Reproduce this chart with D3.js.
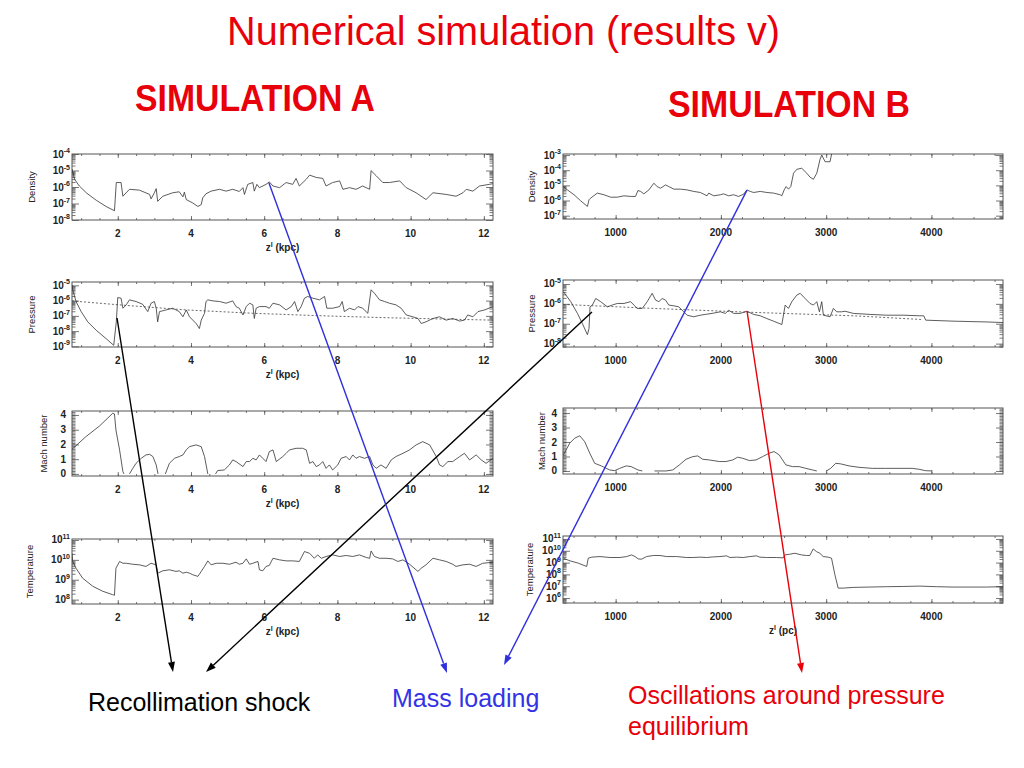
<!DOCTYPE html>
<html><head><meta charset="utf-8">
<script src="https://cdn.jsdelivr.net/npm/d3@7"></script>
<style>body{margin:0;background:#fff}</style>
</head><body>
<svg id="c" width="1024" height="768"></svg>
<script>
// ---------- DATA (z, log10 value) ----------
const zDomainA = [0.75, 12.25];           // kpc
const zDomainB = [500, 4680];             // pc
const xTicksA = [2, 4, 6, 8, 10, 12];
const xTicksB = [1000, 2000, 3000, 4000];
const machTicks = [0, 1, 2, 3, 4];

const densityA = [[0.75,-4.91],[0.82,-5.53],[0.95,-5.94],[1.14,-6.35],[1.41,-6.80],[1.68,-7.18],[1.91,-7.44],[1.96,-5.73],[2.09,-5.73],[2.14,-6.56],[2.32,-6.14],[2.59,-6.19],[2.87,-6.45],[2.91,-6.72],[3.00,-6.35],[3.05,-6.10],[3.09,-6.87],[3.23,-6.56],[3.50,-6.35],[3.68,-6.29],[3.78,-6.60],[3.82,-6.31],[3.87,-6.76],[4.05,-6.97],[4.19,-7.18],[4.28,-7.07],[4.32,-6.66],[4.41,-6.41],[4.55,-6.25],[4.78,-6.14],[4.96,-6.25],[5.14,-6.14],[5.32,-6.27],[5.42,-6.04],[5.46,-6.45],[5.55,-5.84],[5.69,-5.73],[5.73,-6.25],[5.80,-5.84],[5.87,-6.04],[6.05,-5.84],[6.14,-5.69],[6.24,-5.94],[6.42,-6.04],[6.60,-5.73],[6.78,-5.84],[6.87,-5.48],[6.96,-5.94],[7.15,-5.53],[7.24,-5.28],[7.42,-5.42],[7.60,-5.48],[7.69,-5.94],[7.87,-5.73],[8.06,-5.63],[8.15,-6.14],[8.33,-6.04],[8.51,-6.14],[8.69,-5.94],[8.88,-6.14],[8.92,-5.01],[9.06,-5.32],[9.24,-5.73],[9.42,-5.73],[9.70,-5.63],[9.88,-6.04],[10.15,-6.35],[10.42,-6.76],[10.61,-6.35],[10.97,-6.45],[11.24,-6.56],[11.43,-6.35],[11.52,-6.14],[11.70,-6.25],[11.88,-5.94],[12.15,-5.84],[12.25,-5.80]];

const pressureA = [[0.75,-4.96],[0.77,-5.29],[0.86,-6.06],[1.00,-6.72],[1.18,-7.39],[1.41,-7.94],[1.68,-8.49],[1.89,-8.93],[1.96,-7.39],[2.00,-5.80],[2.09,-5.84],[2.14,-6.50],[2.23,-6.28],[2.32,-5.95],[2.50,-6.06],[2.68,-6.24],[2.82,-6.72],[2.91,-6.17],[3.00,-6.06],[3.05,-6.50],[3.09,-7.39],[3.14,-6.72],[3.32,-6.61],[3.50,-6.50],[3.68,-6.72],[3.78,-7.06],[3.87,-6.61],[3.96,-7.06],[4.14,-7.50],[4.23,-7.83],[4.28,-7.28],[4.37,-6.83],[4.41,-6.06],[4.46,-5.95],[4.60,-6.02],[4.78,-6.06],[4.96,-6.17],[5.14,-6.02],[5.23,-6.39],[5.32,-6.50],[5.42,-6.94],[5.51,-6.39],[5.60,-6.17],[5.69,-6.28],[5.73,-7.17],[5.78,-6.50],[5.87,-6.39],[6.05,-6.39],[6.14,-6.50],[6.24,-6.17],[6.42,-6.28],[6.60,-6.61],[6.74,-6.39],[6.83,-6.06],[6.92,-6.72],[7.01,-6.39],[7.10,-5.84],[7.19,-5.73],[7.33,-5.84],[7.51,-5.95],[7.65,-5.73],[7.71,-6.50],[7.87,-6.50],[8.06,-6.39],[8.13,-6.06],[8.19,-6.72],[8.33,-6.50],[8.47,-6.61],[8.56,-6.39],[8.69,-6.50],[8.83,-6.83],[8.92,-5.29],[9.01,-5.51],[9.15,-5.95],[9.29,-6.06],[9.42,-6.17],[9.60,-6.28],[9.74,-6.50],[9.88,-6.94],[10.06,-7.06],[10.20,-7.17],[10.29,-7.50],[10.42,-7.39],[10.61,-7.17],[10.79,-7.06],[10.97,-7.28],[11.15,-7.17],[11.34,-7.34],[11.47,-7.28],[11.56,-6.94],[11.70,-7.06],[11.84,-6.72],[12.02,-6.61],[12.25,-6.39]];

const pressureEqA = [[0.75,-6.02],[2.05,-6.28],[3.87,-6.61],[5.69,-6.83],[7.51,-6.99],[9.33,-7.12],[12.25,-7.28]];

const machA = [[0.75,1.67],[1.13,2.53],[1.50,3.25],[1.86,4.11],[1.91,4.07],[1.95,2.98],[2.05,1.63],[2.14,0.16],[2.17,0],[2.2,null],
[2.32,0],[2.41,0.38],[2.50,0.72],[2.64,1.06],[2.77,1.29],[2.87,1.33],[2.96,1.18],[3.05,0.61],[3.10,0],[3.2,null],
[3.30,0],[3.41,0.72],[3.55,1.06],[3.68,1.18],[3.78,1.29],[3.87,1.63],[3.96,1.85],[4.14,1.97],[4.28,1.85],[4.37,1.18],[4.46,0],[4.5,null],
[4.67,0],[4.73,0.23],[4.91,0.27],[5.05,0.61],[5.14,0.95],[5.23,0.84],[5.42,0.50],[5.51,0.84],[5.60,0.84],[5.69,1.06],[5.78,0.95],[5.87,1.29],[6.05,0.84],[6.14,1.51],[6.24,1.63],[6.33,0.84],[6.51,1.18],[6.60,1.40],[6.69,1.63],[6.87,1.74],[7.05,1.74],[7.15,1.63],[7.24,0.72],[7.33,0.84],[7.42,0.50],[7.51,0.61],[7.60,0.84],[7.69,0.38],[7.78,0.61],[7.87,0.27],[8.01,0.61],[8.10,1.06],[8.24,1.18],[8.33,0.95],[8.42,1.29],[8.51,1.06],[8.60,1.18],[8.74,1.06],[8.88,1.18],[8.97,0.61],[9.06,0.38],[9.19,0.61],[9.33,0.38],[9.47,0.95],[9.60,1.18],[9.79,1.40],[9.97,1.63],[10.15,1.97],[10.33,2.19],[10.52,1.97],[10.70,1.18],[10.79,0.61],[10.88,0.50],[11.02,0.84],[11.15,0.84],[11.34,1.18],[11.47,1.40],[11.61,0.95],[11.79,1.29],[11.93,0.95],[12.06,0.72],[12.25,1.06]];

const temperatureA = [[0.75,10.33],[0.77,9.92],[0.86,9.58],[1.04,9.08],[1.32,8.67],[1.59,8.42],[1.86,8.25],[1.91,8.22],[1.95,9.58],[2.05,9.92],[2.14,9.83],[2.23,9.83],[2.41,9.78],[2.59,9.75],[2.77,9.67],[2.91,9.83],[3.05,9.75],[3.09,9.33],[3.23,9.45],[3.41,9.50],[3.59,9.42],[3.68,9.45],[3.78,9.33],[3.87,9.38],[3.96,9.33],[4.05,9.25],[4.19,9.17],[4.23,9.28],[4.28,9.42],[4.37,9.67],[4.46,9.95],[4.55,9.75],[4.69,9.83],[4.87,9.83],[5.05,9.78],[5.23,9.88],[5.32,9.78],[5.42,9.83],[5.51,10.05],[5.60,9.78],[5.69,9.83],[5.83,9.92],[5.87,9.50],[5.96,9.45],[6.05,9.67],[6.14,9.72],[6.24,10.08],[6.42,10.00],[6.60,9.95],[6.78,9.95],[6.96,9.92],[7.10,10.42],[7.24,10.33],[7.37,10.08],[7.46,10.25],[7.56,10.08],[7.69,10.17],[7.87,10.25],[8.06,10.17],[8.24,10.22],[8.42,10.17],[8.60,10.25],[8.79,10.12],[8.88,10.08],[8.92,10.45],[9.01,10.17],[9.15,10.08],[9.33,10.08],[9.51,10.05],[9.65,9.92],[9.79,10.00],[9.97,9.78],[10.20,9.42],[10.29,9.58],[10.42,9.75],[10.61,10.08],[10.79,10.00],[10.97,9.92],[11.15,9.78],[11.24,9.67],[11.43,9.75],[11.61,9.78],[11.79,9.67],[11.97,9.83],[12.25,9.88]];

const densityB = [[504,-5.08],[542,-5.30],[605,-5.62],[668,-6.02],[732,-6.39],[747,-5.95],[763,-5.84],[826,-5.51],[889,-5.62],[953,-5.78],[1016,-5.78],[1079,-5.69],[1142,-5.73],[1189,-5.73],[1212,-5.34],[1237,-5.40],[1268,-5.56],[1316,-5.30],[1363,-4.86],[1395,-5.08],[1426,-5.19],[1474,-4.97],[1505,-5.08],[1553,-5.25],[1616,-5.25],[1679,-5.30],[1742,-5.40],[1805,-5.47],[1868,-5.69],[1884,-5.51],[1932,-5.69],[1995,-5.62],[2026,-5.56],[2074,-5.69],[2121,-5.62],[2168,-5.73],[2216,-5.58],[2247,-5.30],[2279,-5.40],[2311,-5.47],[2374,-5.40],[2437,-5.47],[2500,-5.51],[2563,-5.62],[2579,-5.69],[2601,-5.30],[2620,-5.08],[2642,-5.25],[2664,-5.08],[2690,-4.20],[2721,-3.94],[2768,-3.87],[2816,-4.20],[2847,-4.46],[2879,-4.60],[2911,-4.20],[2942,-3.28],[2958,-3.00],[2990,-3.44],[3037,-3.44],[3053,-2.89],[3069,-2.0]];

const pressureB = [[504,-5.39],[574,-5.89],[637,-6.48],[684,-6.99],[732,-7.55],[747,-7.24],[757,-6.15],[779,-6.06],[811,-5.73],[858,-5.89],[921,-6.15],[968,-6.06],[1016,-5.98],[1079,-5.98],[1142,-5.89],[1205,-6.23],[1253,-6.23],[1300,-5.89],[1347,-5.47],[1379,-5.81],[1411,-5.89],[1442,-5.73],[1474,-5.81],[1505,-6.06],[1553,-6.10],[1600,-6.15],[1647,-6.40],[1679,-6.57],[1742,-6.65],[1805,-6.57],[1853,-6.53],[1916,-6.48],[1995,-6.40],[2042,-6.48],[2074,-6.32],[2121,-6.48],[2184,-6.48],[2247,-6.37],[2311,-6.53],[2374,-6.60],[2437,-6.74],[2500,-6.87],[2579,-7.04],[2611,-6.06],[2642,-6.23],[2674,-5.89],[2721,-5.56],[2753,-5.47],[2800,-5.73],[2847,-5.98],[2879,-6.06],[2911,-5.89],[2936,-6.40],[2958,-5.89],[2974,-6.57],[3037,-6.65],[3069,-6.23],[3100,-6.40],[3147,-6.40],[3179,-6.37],[3258,-6.48],[3416,-6.53],[3574,-6.57],[3732,-6.57],[3890,-6.60],[3927,-6.60],[3946,-6.82],[4205,-6.87],[4521,-6.91],[4680,-6.94]];

const pressureEqB = [[504,-6.03],[1363,-6.23],[2311,-6.43],[3258,-6.60],[3921,-6.79]];

const machB = [[504,1.11],[564,1.92],[612,2.27],[659,2.43],[706,2.03],[754,1.23],[801,0.53],[864,0.35],[943,0.07],[991,0.02],[1038,0.18],[1101,0.35],[1148,0.30],[1212,0.07],[1253,0],[1300,null],
[1369,0],[1480,0],[1543,0.07],[1606,0.42],[1669,0.81],[1733,0.99],[1780,1.04],[1827,0.81],[1891,0.76],[1985,0.65],[2048,0.65],[2112,0.76],[2159,0.95],[2206,0.88],[2270,0.72],[2333,0.76],[2396,0.99],[2459,1.23],[2506,1.34],[2554,1.11],[2617,0.42],[2680,0.30],[2743,0.30],[2806,0.18],[2870,0.07],[2911,0],[2950,null],
[3002,0],[3043,0.18],[3091,0.53],[3138,0.49],[3217,0.35],[3312,0.25],[3438,0.18],[3564,0.18],[3691,0.18],[3817,0.18],[3880,0.12],[3943,0.02],[4006,0]];

const temperatureB = [[504,9.37],[566,9.15],[646,8.95],[725,8.67],[740,9.37],[772,9.46],[851,9.51],[946,9.43],[1041,9.43],[1104,9.51],[1152,9.65],[1184,9.51],[1215,9.31],[1247,9.29],[1294,9.51],[1358,9.60],[1421,9.60],[1484,9.51],[1579,9.51],[1674,9.43],[1737,9.43],[1801,9.46],[1864,9.43],[1927,9.48],[1991,9.51],[2054,9.57],[2086,9.43],[2149,9.46],[2212,9.43],[2275,9.51],[2339,9.57],[2370,9.46],[2434,9.43],[2529,9.43],[2592,9.40],[2608,9.65],[2655,9.71],[2703,9.79],[2766,9.65],[2814,9.60],[2845,9.60],[2877,10.16],[2908,9.93],[2940,9.79],[2972,9.51],[3019,9.46],[3051,9.37],[3083,7.97],[3114,6.84],[3162,6.84],[3257,6.90],[3415,6.93],[3573,6.96],[3731,6.98],[3890,7.01],[4048,6.96],[4206,6.93],[4523,6.93],[4680,6.96]];

// ---------- LAYOUT ----------
const FONT = '"Liberation Sans", Arial, Helvetica, sans-serif';
const svg = d3.select('#c').attr('font-family', FONT);
const defs = svg.append('defs');

const panels = [
  {id:'dA', data:densityA, log:true, xd:zDomainA, yd:[-8,-4], x0:72, x1:493, y0:154, y1:220, ylabel:'Density', lx:32, xt:xTicksA, xtitle:'(kpc)', minorX:0.5},
  {id:'pA', data:pressureA, eq:pressureEqA, log:true, xd:zDomainA, yd:[-9.04,-4.78], x0:72, x1:493, y0:282, y1:347, ylabel:'Pressure', lx:32, xt:xTicksA, xtitle:'(kpc)', minorX:0.5},
  {id:'mA', data:machA, log:false, xd:zDomainA, yd:[-0.14,4.27], x0:72, x1:493, y0:411, y1:476, ylabel:'Mach number', lx:44, xt:xTicksA, xtitle:'(kpc)', minorX:0.5},
  {id:'tA', data:temperatureA, log:true, xd:zDomainA, yd:[7.78,11.05], x0:72, x1:493, y0:539, y1:604, ylabel:'Temperature', lx:30, xt:xTicksA, xtitle:'(kpc)', minorX:0.5},
  {id:'dB', data:densityB, log:true, xd:zDomainB, yd:[-7.22,-2.93], x0:563, x1:1003, y0:154, y1:219, ylabel:'Density', lx:532, xt:xTicksB, xtitle:null, minorX:200},
  {id:'pB', data:pressureB, eq:pressureEqB, log:true, xd:zDomainB, yd:[-8.17,-4.8], x0:563, x1:1003, y0:280, y1:347, ylabel:'Pressure', lx:532, xt:xTicksB, xtitle:null, minorX:200},
  {id:'mB', data:machB, log:false, xd:zDomainB, yd:[-0.21,4.35], x0:563, x1:1003, y0:408, y1:474, ylabel:'Mach number', lx:542, xt:xTicksB, xtitle:null, minorX:200},
  {id:'tB', data:temperatureB, log:true, xd:zDomainB, yd:[5.58,11.25], x0:563, x1:1003, y0:536, y1:603, ylabel:'Temperature', lx:530, xt:xTicksB, xtitle:'(pc)', minorX:200}
];

const scales = {};

function styleTicks(sel) {
  sel.select('.domain').remove();
  sel.selectAll('.tick line').attr('stroke', '#555').attr('stroke-width', 0.8);
}

function drawPanel(p) {
  const x = d3.scaleLinear().domain(p.xd).range([p.x0, p.x1]);
  const y = p.log ? d3.scaleLog().domain(p.yd.map(e => Math.pow(10, e))).range([p.y1, p.y0])
                  : d3.scaleLinear().domain(p.yd).range([p.y1, p.y0]);
  const val = p.log ? v => Math.pow(10, v) : v => v;
  scales[p.id] = {x, y, val};
  const g = svg.append('g');

  defs.append('clipPath').attr('id', 'clip-' + p.id)
    .append('rect').attr('x', p.x0).attr('y', p.y0).attr('width', p.x1 - p.x0).attr('height', p.y1 - p.y0);

  let majors = [], minors = [];
  if (p.log) {
    for (let k = Math.floor(p.yd[0]); k <= Math.ceil(p.yd[1]); k++) {
      if (k >= p.yd[0] && k <= p.yd[1]) majors.push(Math.pow(10, k));
      for (let m = 2; m < 10; m++) {
        const lv = Math.log10(m) + k;
        if (lv >= p.yd[0] && lv <= p.yd[1]) minors.push(Math.pow(10, lv));
      }
    }
  } else {
    majors = machTicks;
    minors = d3.range(0, 4.31, 0.1).filter(v => v >= p.yd[0] && v <= p.yd[1]);
  }
  [[d3.axisLeft, p.x0], [d3.axisRight, p.x1]].forEach(([ax, xp]) => {
    g.append('g').attr('transform', `translate(${xp},0)`)
      .call(ax(y).tickValues(minors).tickSize(-3.5).tickSizeOuter(0).tickFormat('')).call(styleTicks);
    g.append('g').attr('transform', `translate(${xp},0)`)
      .call(ax(y).tickValues(majors).tickSize(-7).tickSizeOuter(0).tickFormat('')).call(styleTicks);
  });
  const xMinor = d3.range(Math.ceil(p.xd[0] / p.minorX) * p.minorX, p.xd[1], p.minorX);
  [[d3.axisBottom, p.y1], [d3.axisTop, p.y0]].forEach(([ax, yp]) => {
    g.append('g').attr('transform', `translate(0,${yp})`)
      .call(ax(x).tickValues(xMinor).tickSize(-2).tickSizeOuter(0).tickFormat('')).call(styleTicks);
    g.append('g').attr('transform', `translate(0,${yp})`)
      .call(ax(x).tickValues(p.xt).tickSize(-4).tickSizeOuter(0).tickFormat('')).call(styleTicks);
  });

  g.append('rect').attr('x', p.x0).attr('y', p.y0).attr('width', p.x1 - p.x0).attr('height', p.y1 - p.y0)
    .attr('fill', 'none').attr('stroke', '#555').attr('stroke-width', 1);

  majors.forEach(v => {
    if (p.log) {
      const e = Math.round(Math.log10(v));
      const t = g.append('text').attr('x', p.x0 - 2).attr('y', y(v) + 3.5)
        .attr('text-anchor', 'end').attr('font-size', 10).attr('font-weight', 'bold').attr('fill', '#222');
      t.append('tspan').text('10');
      t.append('tspan').attr('dy', -4.5).attr('font-size', 7).text(e < 0 ? '-' + Math.abs(e) : String(e));
    } else {
      g.append('text').attr('x', p.x0 - 6).attr('y', y(v) + 3.5).attr('text-anchor', 'end')
        .attr('font-size', 10).attr('font-weight', 'bold').attr('fill', '#222').text(v);
    }
  });

  p.xt.forEach(v => {
    g.append('text').attr('x', x(v)).attr('y', p.y1 + 17).attr('text-anchor', 'middle')
      .attr('font-size', 10).attr('font-weight', 'bold').attr('fill', '#222').text(v);
  });
  if (p.xtitle) {
    const t = g.append('text').attr('x', (p.x0 + p.x1) / 2).attr('y', p.y1 + 31).attr('text-anchor', 'middle')
      .attr('font-size', 10).attr('font-weight', 'bold').attr('fill', '#222');
    t.append('tspan').text('z');
    t.append('tspan').attr('dy', -4).attr('font-size', 7).text('l');
    t.append('tspan').attr('dy', 4).text(' ' + p.xtitle);
  }

  g.append('text').attr('transform', `translate(${p.lx},${(p.y0 + p.y1) / 2}) rotate(-90)`)
    .attr('text-anchor', 'middle').attr('dy', '0.35em').attr('font-size', 9.5).attr('fill', '#222').text(p.ylabel);

  const line = d3.line().defined(d => d[1] !== null).x(d => x(d[0])).y(d => y(val(d[1])));
  const cg = g.append('g').attr('clip-path', `url(#clip-${p.id})`);
  if (p.eq) {
    cg.append('path').datum(p.eq).attr('d', line).attr('fill', 'none')
      .attr('stroke', '#444').attr('stroke-width', 0.8).attr('stroke-dasharray', '2,2');
  }
  cg.append('path').datum(p.data).attr('d', line).attr('fill', 'none')
    .attr('stroke', '#333').attr('stroke-width', 0.8).attr('stroke-linejoin', 'round');
}
panels.forEach(drawPanel);

// ---------- TEXT ----------
svg.append('text').attr('x', 227).attr('y', 45).attr('font-size', 41).attr('fill', '#e8000b')
  .attr('textLength', 553).attr('lengthAdjust', 'spacingAndGlyphs').text('Numerical simulation (results v)');
svg.append('text').attr('x', 135).attr('y', 111).attr('font-size', 36).attr('font-weight', 'bold').attr('fill', '#e8000b')
  .attr('textLength', 240).attr('lengthAdjust', 'spacingAndGlyphs').text('SIMULATION A');
svg.append('text').attr('x', 668).attr('y', 117).attr('font-size', 36).attr('font-weight', 'bold').attr('fill', '#e8000b')
  .attr('textLength', 242).attr('lengthAdjust', 'spacingAndGlyphs').text('SIMULATION B');

svg.append('text').attr('x', 88).attr('y', 711).attr('font-size', 25).attr('fill', '#000').text('Recollimation shock');
svg.append('text').attr('x', 392).attr('y', 707).attr('font-size', 25).attr('fill', '#3333e6').text('Mass loading');
svg.append('text').attr('x', 628).attr('y', 704).attr('font-size', 25).attr('fill', '#e8000b').text('Oscillations around pressure');
svg.append('text').attr('x', 628).attr('y', 735).attr('font-size', 25).attr('fill', '#e8000b').text('equilibrium');

// ---------- ARROWS ----------
const arrowNotes = [
  {panel:'pA', z:1.98, v:-7.14, to:[173, 672], color:'#000000'},
  {panel:'pB', z:775,  v:-6.41, to:[206, 672], color:'#000000'},
  {panel:'dA', z:6.13, v:-5.76, to:[447, 673], color:'#2f2fdd'},
  {panel:'dB', z:2248, v:-5.31, to:[504, 665], color:'#2f2fdd'},
  {panel:'pB', z:2248, v:-6.36, to:[802, 673], color:'#e8000b'}
];
arrowNotes.forEach(a => {
  const s = scales[a.panel];
  const x1 = s.x(a.z), y1 = s.y(s.val(a.v));
  const [x2, y2] = a.to;
  const ang = Math.atan2(y2 - y1, x2 - x1);
  const L = 10, W = 3.5;
  const bx = x2 - L * Math.cos(ang), by = y2 - L * Math.sin(ang);
  svg.append('line').attr('x1', x1).attr('y1', y1).attr('x2', bx).attr('y2', by)
    .attr('stroke', a.color).attr('stroke-width', 1.4);
  const px = -Math.sin(ang) * W, py = Math.cos(ang) * W;
  svg.append('path').attr('d', `M${x2},${y2}L${bx + px},${by + py}L${bx - px},${by - py}Z`).attr('fill', a.color);
});
</script>
</body></html>
